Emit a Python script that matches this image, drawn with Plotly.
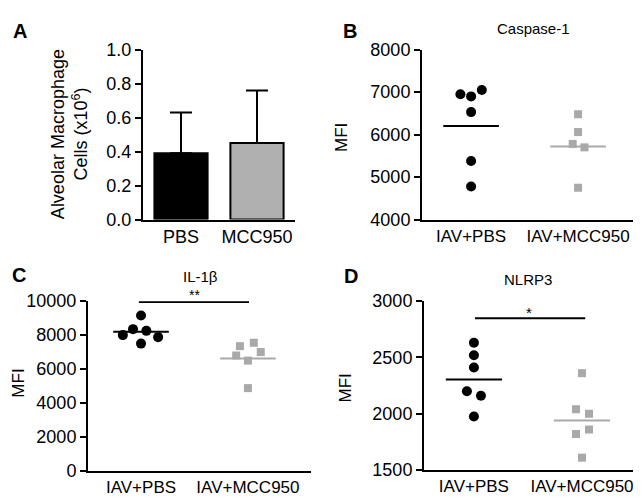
import plotly.graph_objects as go

# ---------------- data ----------------
a_categories = ["PBS", "MCC950"]
a_means = [0.39, 0.45]
a_err_upper = [0.24, 0.31]
a_ticks = [0.0, 0.2, 0.4, 0.6, 0.8, 1.0]

grp_labels = ["IAV+PBS", "IAV+MCC950"]

b_pbs = [6950, 6900, 7050, 6530, 5380, 4780]
b_mcc = [6480, 6060, 5780, 5700, 4750]
b_means = [6200, 5720]
b_ticks = [4000, 5000, 6000, 7000, 8000]

c_pbs = [9150, 8350, 8250, 8000, 7880, 7500]
c_mcc = [7550, 7350, 7000, 6800, 6500, 4880]
c_means = [8200, 6620]
c_ticks = [0, 2000, 4000, 6000, 8000, 10000]

d_pbs = [2630, 2520, 2410, 2200, 2160, 1975]
d_mcc = [2360, 2040, 2000, 1860, 1820, 1610]
d_means = [2305, 1940]
d_ticks = [1500, 2000, 2500, 3000]

# ---------------- layout helpers (positions / styles) ----------------
W, H = 641, 497
FONT = "Liberation Sans, Arial, sans-serif"
GRAY = "#a9a9a9"

b_pbs_off = [-0.10, 0.0, 0.10, 0.0, 0.0, 0.0]
b_mcc_off = [0.0, 0.0, -0.05, 0.06, 0.0]
c_pbs_off = [0.0, -0.075, 0.05, -0.17, 0.16, 0.0]
c_mcc_off = [0.055, -0.075, 0.12, -0.11, 0.0, 0.0]
d_pbs_off = [0.0, 0.0, 0.0, -0.065, 0.065, 0.0]
d_mcc_off = [0.0, -0.055, 0.065, 0.065, -0.055, 0.0]
MEAN_HW = 0.26


def px_x(x):
    return x / W


def px_y(y):
    return 1 - y / H


fig = go.Figure()

# ---------------- Panel A ----------------
fig.add_trace(go.Bar(
    x=[0, 1], y=a_means, width=0.7,
    marker=dict(color=["#000000", "#b0b0b0"], line=dict(color="black", width=2)),
    error_y=dict(type="data", symmetric=False, array=a_err_upper,
                 arrayminus=[0, 0], color="black", thickness=2, width=11),
    xaxis="x", yaxis="y", showlegend=False, cliponaxis=False,
))


def add_dot_panel(xa, ya, pbs, mcc, pbs_off, mcc_off, means):
    fig.add_trace(go.Scatter(
        x=[0 + o for o in pbs_off], y=pbs, mode="markers",
        marker=dict(symbol="circle", size=10, color="black"),
        xaxis=xa, yaxis=ya, showlegend=False, cliponaxis=False))
    fig.add_trace(go.Scatter(
        x=[1 + o for o in mcc_off], y=mcc, mode="markers",
        marker=dict(symbol="square", size=8, color=GRAY),
        xaxis=xa, yaxis=ya, showlegend=False, cliponaxis=False))
    fig.add_trace(go.Scatter(
        x=[0 - MEAN_HW, 0 + MEAN_HW], y=[means[0]] * 2, mode="lines",
        line=dict(color="black", width=2),
        xaxis=xa, yaxis=ya, showlegend=False))
    fig.add_trace(go.Scatter(
        x=[1 - MEAN_HW, 1 + MEAN_HW], y=[means[1]] * 2, mode="lines",
        line=dict(color=GRAY, width=2),
        xaxis=xa, yaxis=ya, showlegend=False))


add_dot_panel("x2", "y2", b_pbs, b_mcc, b_pbs_off, b_mcc_off, b_means)
add_dot_panel("x3", "y3", c_pbs, c_mcc, c_pbs_off, c_mcc_off, c_means)
add_dot_panel("x4", "y4", d_pbs, d_mcc, d_pbs_off, d_mcc_off, d_means)

axis_common = dict(showline=True, linecolor="black", linewidth=2,
                   showgrid=False, zeroline=False, fixedrange=True)
yax_common = dict(axis_common, ticks="outside", ticklen=6, tickwidth=2,
                  tickcolor="black")
xax_common = dict(axis_common, ticks="", tickvals=[0, 1])

tickfont = dict(family=FONT, size=18, color="black")
xfont = dict(family=FONT, size=17, color="black")


def ytick(vals, fmt):
    return dict(tickvals=vals, ticktext=[fmt.format(v) for v in vals])


fig.update_layout(
    width=W, height=H,
    margin=dict(l=0, r=0, t=0, b=0),
    paper_bgcolor="white", plot_bgcolor="white",
    font=dict(family=FONT, color="black"),
    # Panel A
    xaxis=dict(xax_common, domain=[px_x(135), px_x(287)], range=[-0.5, 1.5],
               ticktext=a_categories, tickfont=tickfont, anchor="y"),
    yaxis=dict(yax_common, domain=[px_y(210), px_y(33)], range=[0, 1.0],
               **ytick(a_ticks, "{:.1f}"), tickfont=tickfont, anchor="x"),
    # Panel B
    xaxis2=dict(xax_common, domain=[px_x(414), px_x(635)], range=[-0.459, 1.607],
                ticktext=grp_labels, tickfont=xfont, anchor="y2"),
    yaxis2=dict(yax_common, domain=[px_y(210), px_y(33)], range=[4000, 8000],
                **ytick(b_ticks, "{:d}"), tickfont=tickfont, anchor="x2"),
    # Panel C
    xaxis3=dict(xax_common, domain=[px_x(80), px_x(303)], range=[-0.496, 1.59],
                ticktext=grp_labels, tickfont=xfont, anchor="y3"),
    yaxis3=dict(yax_common, domain=[px_y(472), px_y(295)], range=[0, 10000],
                **ytick(c_ticks, "{:d}"), tickfont=tickfont, anchor="x3"),
    # Panel D
    xaxis4=dict(xax_common, domain=[px_x(416), px_x(636)], range=[-0.462, 1.574],
                ticktext=grp_labels, tickfont=xfont, anchor="y4"),
    yaxis4=dict(yax_common, domain=[px_y(471), px_y(295)], range=[1500, 3000],
                **ytick(d_ticks, "{:d}"), tickfont=tickfont, anchor="x4"),
)

# significance bars
fig.add_shape(type="line", xref="x3", yref="y3", x0=-0.02, x1=1.01,
              y0=9950, y1=9950, line=dict(color="black", width=2))
fig.add_shape(type="line", xref="x4", yref="y4", x0=0.01, x1=1.03,
              y0=2847, y1=2847, line=dict(color="black", width=2))

ann = []
# panel letters
for letter, (x, y) in {"A": (12, 14), "B": (342, 14), "C": (11, 268),
                       "D": (343, 269)}.items():
    ann.append(dict(text=f"<b>{letter}</b>", x=px_x(x), y=px_y(y),
                    xref="paper", yref="paper", showarrow=False,
                    font=dict(family=FONT, size=20, color="black"),
                    xanchor="center", yanchor="middle"))
# panel titles
for t, (x, y) in {"Caspase-1": (525, 11), "IL-1β": (193, 269),
                  "NLRP3": (520, 272)}.items():
    ann.append(dict(text=t, x=px_x(x), y=px_y(y), xref="paper", yref="paper",
                    showarrow=False, font=dict(family=FONT, size=15, color="black"),
                    xanchor="center", yanchor="middle"))
# significance stars
ann.append(dict(text="**", x=px_x(186), y=px_y(289), xref="paper", yref="paper",
                showarrow=False, font=dict(family=FONT, size=14, color="black"),
                xanchor="center", yanchor="middle"))
ann.append(dict(text="*", x=px_x(521), y=px_y(307), xref="paper", yref="paper",
                showarrow=False, font=dict(family=FONT, size=15, color="black"),
                xanchor="center", yanchor="middle"))
# y titles
ann.append(dict(text="Alveolar Macrophage<br>Cells (x10<sup>6</sup>)",
                x=px_x(61), y=px_y(121), xref="paper", yref="paper",
                showarrow=False, textangle=-90,
                font=dict(family=FONT, size=18, color="black"),
                xanchor="center", yanchor="middle"))
for (x, y) in [(334, 125), (11, 381), (337, 386)]:
    ann.append(dict(text="MFI", x=px_x(x), y=px_y(y), xref="paper", yref="paper",
                    showarrow=False, textangle=-90,
                    font=dict(family=FONT, size=17, color="black"),
                    xanchor="center", yanchor="middle"))
fig.update_layout(annotations=ann)

fig.write_html("out.html")
